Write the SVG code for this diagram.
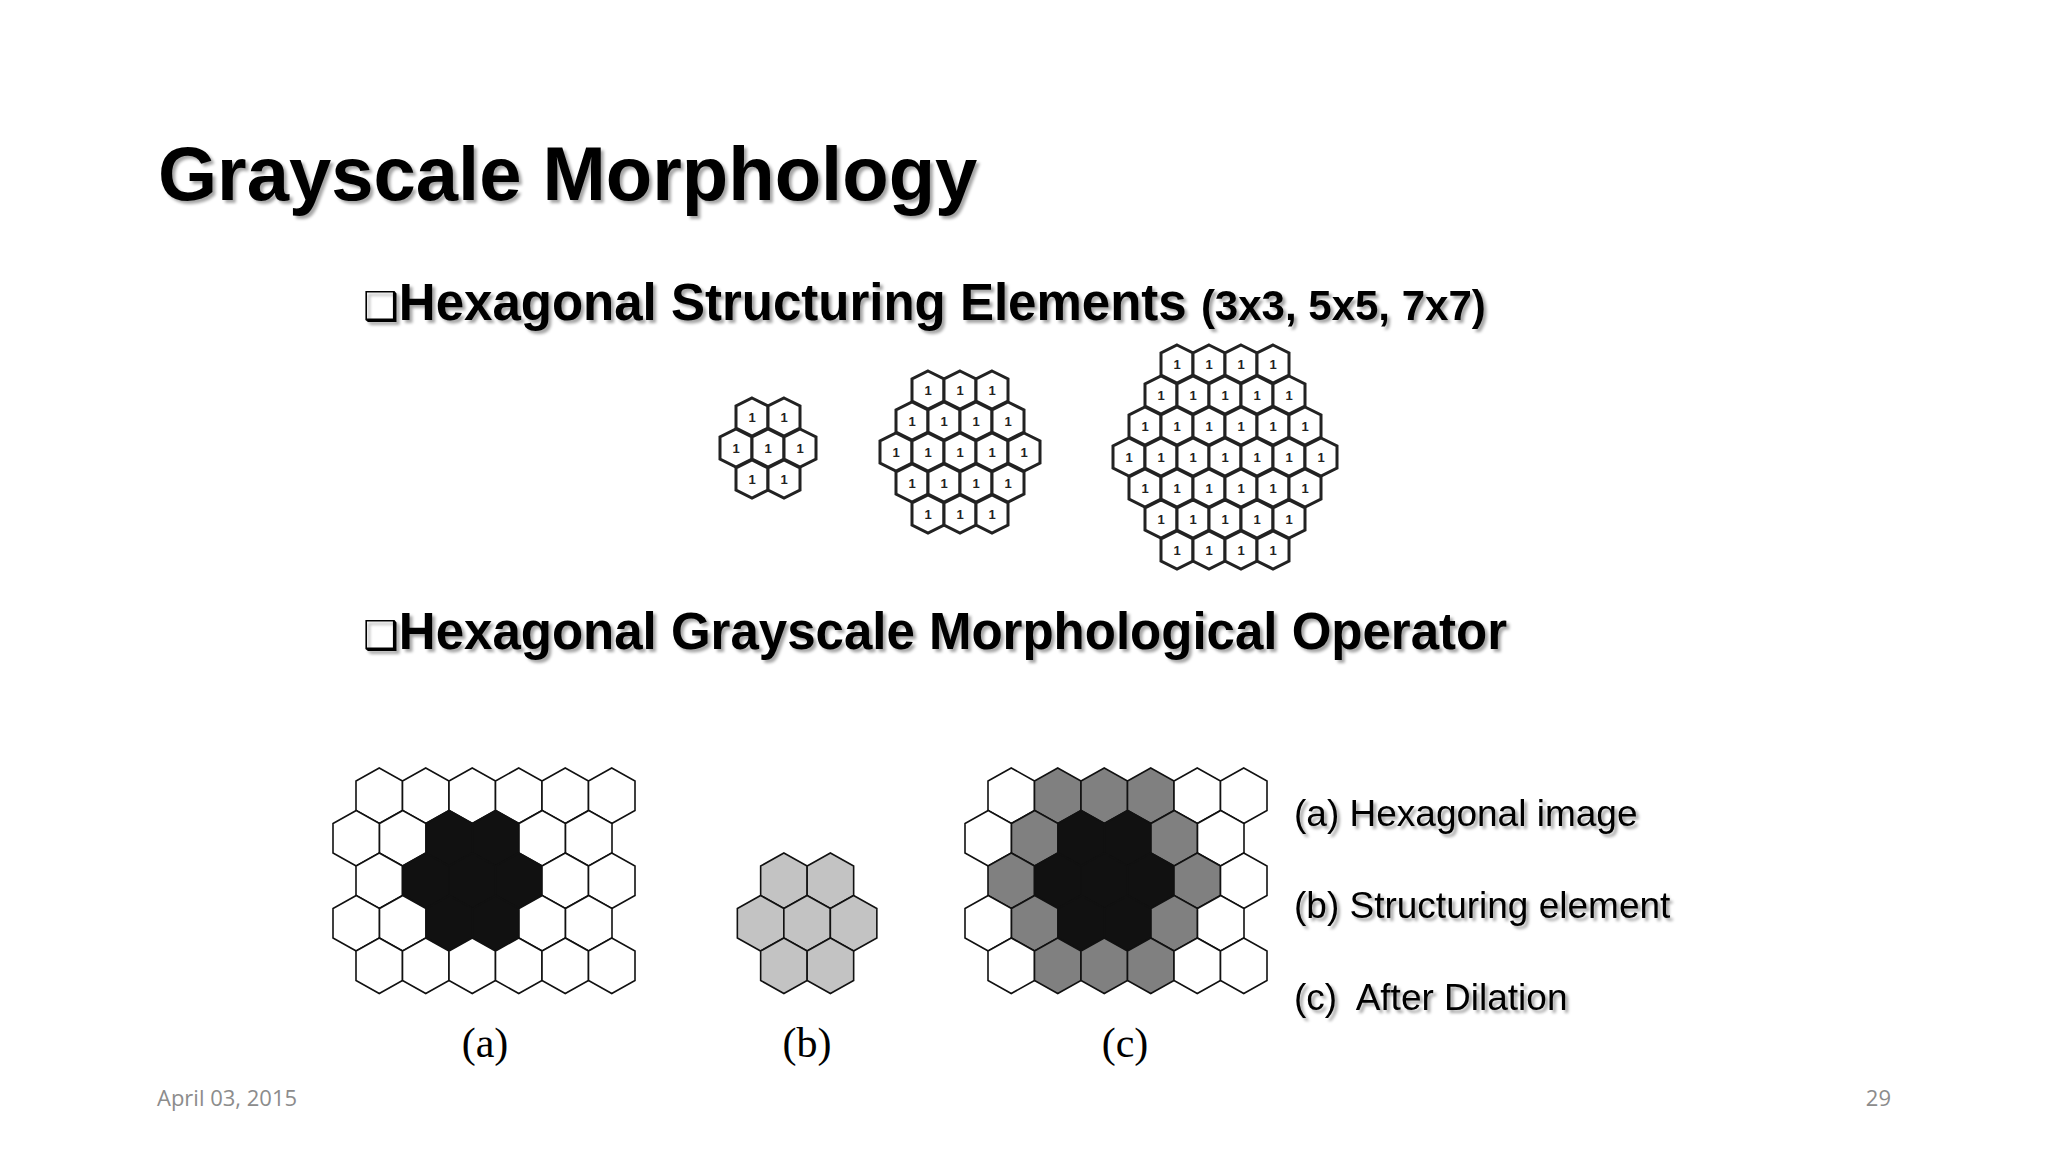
<svg xmlns="http://www.w3.org/2000/svg" xmlns:xlink="http://www.w3.org/1999/xlink" width="2048" height="1152" viewBox="0 0 2048 1152">
<style>
.sh{filter:url(#ds)}
.t1{font-family:"Liberation Sans",Arial,sans-serif;font-weight:bold;fill:#000}
.lab{font-family:"Liberation Serif",serif;font-size:42px;fill:#000;text-anchor:middle}
.rl{font-family:"Liberation Sans",Arial,sans-serif;font-size:37px;fill:#000}
.ft{font-family:"Open Sans","Liberation Sans",sans-serif;font-size:22px;fill:#8c8c8c}
.sm{fill:#fff;stroke:#222;stroke-width:3}
.one{font-family:"Liberation Sans",sans-serif;font-size:13px;font-weight:bold;text-anchor:middle;fill:#222}
.w{fill:#fff;stroke:#111;stroke-width:1.6}
.d{fill:#111;stroke:#111;stroke-width:1.6}
.g{fill:#808080;stroke:#111;stroke-width:1.6}
.l{fill:#c3c3c3;stroke:#111;stroke-width:1.6}
</style>
<defs>
<filter id="ds" x="-5%" y="-20%" width="110%" height="150%"><feDropShadow dx="3" dy="3" stdDeviation="1.5" flood-color="#000" flood-opacity="0.35"/></filter>
<path id="hs" d="M0,-19L16,-11L16,11L0,19L-16,11L-16,-11Z"/>
<path id="hb" d="M0,-27.75L23.25,-14.75L23.25,14.75L0,27.75L-23.25,14.75L-23.25,-14.75Z"/>
</defs>
<rect width="2048" height="1152" fill="#fff"/>
<g id="title" class="sh"><text class="t1" x="158" y="200" font-size="76">Grayscale Morphology</text></g>
<g id="bullet1" class="sh"><text class="t1" x="363" y="320" font-size="51"><tspan font-family="DejaVu Sans" font-size="40">❑</tspan>Hexagonal Structuring Elements <tspan font-size="42">(3x3, 5x5, 7x7)</tspan></text></g>
<g id="bullet2" class="sh"><text class="t1" x="363" y="649" font-size="51"><tspan font-family="DejaVu Sans" font-size="40">❑</tspan>Hexagonal Grayscale Morphological Operator</text></g>

<g id="se3">
<use href="#hs" class="sm" x="752" y="417"/><use href="#hs" class="sm" x="784" y="417"/>
<use href="#hs" class="sm" x="736" y="448"/><use href="#hs" class="sm" x="768" y="448"/><use href="#hs" class="sm" x="800" y="448"/>
<use href="#hs" class="sm" x="752" y="479"/><use href="#hs" class="sm" x="784" y="479"/>
<text class="one" x="752" y="422">1</text><text class="one" x="784" y="422">1</text>
<text class="one" x="736" y="453">1</text><text class="one" x="768" y="453">1</text><text class="one" x="800" y="453">1</text>
<text class="one" x="752" y="484">1</text><text class="one" x="784" y="484">1</text>
</g>
<g id="se5">
<use href="#hs" class="sm" x="928" y="390"/><use href="#hs" class="sm" x="960" y="390"/><use href="#hs" class="sm" x="992" y="390"/>
<use href="#hs" class="sm" x="912" y="421"/><use href="#hs" class="sm" x="944" y="421"/><use href="#hs" class="sm" x="976" y="421"/><use href="#hs" class="sm" x="1008" y="421"/>
<use href="#hs" class="sm" x="896" y="452"/><use href="#hs" class="sm" x="928" y="452"/><use href="#hs" class="sm" x="960" y="452"/><use href="#hs" class="sm" x="992" y="452"/><use href="#hs" class="sm" x="1024" y="452"/>
<use href="#hs" class="sm" x="912" y="483"/><use href="#hs" class="sm" x="944" y="483"/><use href="#hs" class="sm" x="976" y="483"/><use href="#hs" class="sm" x="1008" y="483"/>
<use href="#hs" class="sm" x="928" y="514"/><use href="#hs" class="sm" x="960" y="514"/><use href="#hs" class="sm" x="992" y="514"/>
<text class="one" x="928" y="395">1</text><text class="one" x="960" y="395">1</text><text class="one" x="992" y="395">1</text>
<text class="one" x="912" y="426">1</text><text class="one" x="944" y="426">1</text><text class="one" x="976" y="426">1</text><text class="one" x="1008" y="426">1</text>
<text class="one" x="896" y="457">1</text><text class="one" x="928" y="457">1</text><text class="one" x="960" y="457">1</text><text class="one" x="992" y="457">1</text><text class="one" x="1024" y="457">1</text>
<text class="one" x="912" y="488">1</text><text class="one" x="944" y="488">1</text><text class="one" x="976" y="488">1</text><text class="one" x="1008" y="488">1</text>
<text class="one" x="928" y="519">1</text><text class="one" x="960" y="519">1</text><text class="one" x="992" y="519">1</text>
</g>
<g id="se7">
<use href="#hs" class="sm" x="1177" y="364"/><use href="#hs" class="sm" x="1209" y="364"/><use href="#hs" class="sm" x="1241" y="364"/><use href="#hs" class="sm" x="1273" y="364"/>
<use href="#hs" class="sm" x="1161" y="395"/><use href="#hs" class="sm" x="1193" y="395"/><use href="#hs" class="sm" x="1225" y="395"/><use href="#hs" class="sm" x="1257" y="395"/><use href="#hs" class="sm" x="1289" y="395"/>
<use href="#hs" class="sm" x="1145" y="426"/><use href="#hs" class="sm" x="1177" y="426"/><use href="#hs" class="sm" x="1209" y="426"/><use href="#hs" class="sm" x="1241" y="426"/><use href="#hs" class="sm" x="1273" y="426"/><use href="#hs" class="sm" x="1305" y="426"/>
<use href="#hs" class="sm" x="1129" y="457"/><use href="#hs" class="sm" x="1161" y="457"/><use href="#hs" class="sm" x="1193" y="457"/><use href="#hs" class="sm" x="1225" y="457"/><use href="#hs" class="sm" x="1257" y="457"/><use href="#hs" class="sm" x="1289" y="457"/><use href="#hs" class="sm" x="1321" y="457"/>
<use href="#hs" class="sm" x="1145" y="488"/><use href="#hs" class="sm" x="1177" y="488"/><use href="#hs" class="sm" x="1209" y="488"/><use href="#hs" class="sm" x="1241" y="488"/><use href="#hs" class="sm" x="1273" y="488"/><use href="#hs" class="sm" x="1305" y="488"/>
<use href="#hs" class="sm" x="1161" y="519"/><use href="#hs" class="sm" x="1193" y="519"/><use href="#hs" class="sm" x="1225" y="519"/><use href="#hs" class="sm" x="1257" y="519"/><use href="#hs" class="sm" x="1289" y="519"/>
<use href="#hs" class="sm" x="1177" y="550"/><use href="#hs" class="sm" x="1209" y="550"/><use href="#hs" class="sm" x="1241" y="550"/><use href="#hs" class="sm" x="1273" y="550"/>
<text class="one" x="1177" y="369">1</text><text class="one" x="1209" y="369">1</text><text class="one" x="1241" y="369">1</text><text class="one" x="1273" y="369">1</text>
<text class="one" x="1161" y="400">1</text><text class="one" x="1193" y="400">1</text><text class="one" x="1225" y="400">1</text><text class="one" x="1257" y="400">1</text><text class="one" x="1289" y="400">1</text>
<text class="one" x="1145" y="431">1</text><text class="one" x="1177" y="431">1</text><text class="one" x="1209" y="431">1</text><text class="one" x="1241" y="431">1</text><text class="one" x="1273" y="431">1</text><text class="one" x="1305" y="431">1</text>
<text class="one" x="1129" y="462">1</text><text class="one" x="1161" y="462">1</text><text class="one" x="1193" y="462">1</text><text class="one" x="1225" y="462">1</text><text class="one" x="1257" y="462">1</text><text class="one" x="1289" y="462">1</text><text class="one" x="1321" y="462">1</text>
<text class="one" x="1145" y="493">1</text><text class="one" x="1177" y="493">1</text><text class="one" x="1209" y="493">1</text><text class="one" x="1241" y="493">1</text><text class="one" x="1273" y="493">1</text><text class="one" x="1305" y="493">1</text>
<text class="one" x="1161" y="524">1</text><text class="one" x="1193" y="524">1</text><text class="one" x="1225" y="524">1</text><text class="one" x="1257" y="524">1</text><text class="one" x="1289" y="524">1</text>
<text class="one" x="1177" y="555">1</text><text class="one" x="1209" y="555">1</text><text class="one" x="1241" y="555">1</text><text class="one" x="1273" y="555">1</text>
</g>

<g id="imgA">
<use href="#hb" class="w" x="379.25" y="795.75"/><use href="#hb" class="w" x="425.75" y="795.75"/><use href="#hb" class="w" x="472.25" y="795.75"/><use href="#hb" class="w" x="518.75" y="795.75"/><use href="#hb" class="w" x="565.25" y="795.75"/><use href="#hb" class="w" x="611.75" y="795.75"/>
<use href="#hb" class="w" x="356.25" y="838.25"/><use href="#hb" class="w" x="402.75" y="838.25"/><use href="#hb" class="d" x="449.25" y="838.25"/><use href="#hb" class="d" x="495.75" y="838.25"/><use href="#hb" class="w" x="542.25" y="838.25"/><use href="#hb" class="w" x="588.75" y="838.25"/>
<use href="#hb" class="w" x="379.25" y="880.75"/><use href="#hb" class="d" x="425.75" y="880.75"/><use href="#hb" class="d" x="472.25" y="880.75"/><use href="#hb" class="d" x="518.75" y="880.75"/><use href="#hb" class="w" x="565.25" y="880.75"/><use href="#hb" class="w" x="611.75" y="880.75"/>
<use href="#hb" class="w" x="356.25" y="923.25"/><use href="#hb" class="w" x="402.75" y="923.25"/><use href="#hb" class="d" x="449.25" y="923.25"/><use href="#hb" class="d" x="495.75" y="923.25"/><use href="#hb" class="w" x="542.25" y="923.25"/><use href="#hb" class="w" x="588.75" y="923.25"/>
<use href="#hb" class="w" x="379.25" y="965.75"/><use href="#hb" class="w" x="425.75" y="965.75"/><use href="#hb" class="w" x="472.25" y="965.75"/><use href="#hb" class="w" x="518.75" y="965.75"/><use href="#hb" class="w" x="565.25" y="965.75"/><use href="#hb" class="w" x="611.75" y="965.75"/>
</g>
<g id="imgB">
<use href="#hb" class="l" x="783.9" y="880.75"/><use href="#hb" class="l" x="830.4" y="880.75"/>
<use href="#hb" class="l" x="760.6" y="923.25"/><use href="#hb" class="l" x="807.1" y="923.25"/><use href="#hb" class="l" x="853.6" y="923.25"/>
<use href="#hb" class="l" x="783.9" y="965.75"/><use href="#hb" class="l" x="830.4" y="965.75"/>
</g>
<g id="imgC">
<use href="#hb" class="w" x="1011.25" y="795.75"/><use href="#hb" class="g" x="1057.75" y="795.75"/><use href="#hb" class="g" x="1104.25" y="795.75"/><use href="#hb" class="g" x="1150.75" y="795.75"/><use href="#hb" class="w" x="1197.25" y="795.75"/><use href="#hb" class="w" x="1243.75" y="795.75"/>
<use href="#hb" class="w" x="988.25" y="838.25"/><use href="#hb" class="g" x="1034.75" y="838.25"/><use href="#hb" class="d" x="1081.25" y="838.25"/><use href="#hb" class="d" x="1127.75" y="838.25"/><use href="#hb" class="g" x="1174.25" y="838.25"/><use href="#hb" class="w" x="1220.75" y="838.25"/>
<use href="#hb" class="g" x="1011.25" y="880.75"/><use href="#hb" class="d" x="1057.75" y="880.75"/><use href="#hb" class="d" x="1104.25" y="880.75"/><use href="#hb" class="d" x="1150.75" y="880.75"/><use href="#hb" class="g" x="1197.25" y="880.75"/><use href="#hb" class="w" x="1243.75" y="880.75"/>
<use href="#hb" class="w" x="988.25" y="923.25"/><use href="#hb" class="g" x="1034.75" y="923.25"/><use href="#hb" class="d" x="1081.25" y="923.25"/><use href="#hb" class="d" x="1127.75" y="923.25"/><use href="#hb" class="g" x="1174.25" y="923.25"/><use href="#hb" class="w" x="1220.75" y="923.25"/>
<use href="#hb" class="w" x="1011.25" y="965.75"/><use href="#hb" class="g" x="1057.75" y="965.75"/><use href="#hb" class="g" x="1104.25" y="965.75"/><use href="#hb" class="g" x="1150.75" y="965.75"/><use href="#hb" class="w" x="1197.25" y="965.75"/><use href="#hb" class="w" x="1243.75" y="965.75"/>
</g>
<g id="captions">
<text class="lab" x="485" y="1057">(a)</text>
<text class="lab" x="807" y="1057">(b)</text>
<text class="lab" x="1125" y="1057">(c)</text>
</g>
<g id="legend" class="sh">
<text class="rl" x="1294" y="826">(a) Hexagonal image</text>
<text class="rl" x="1294" y="918">(b) Structuring element</text>
<text class="rl" x="1294" y="1010" xml:space="preserve">(c)  After Dilation</text>
</g>
<g id="footer">
<text class="ft" x="157" y="1106">April 03, 2015</text>
<text class="ft" x="1891" y="1106" text-anchor="end">29</text>
</g>
</svg>
